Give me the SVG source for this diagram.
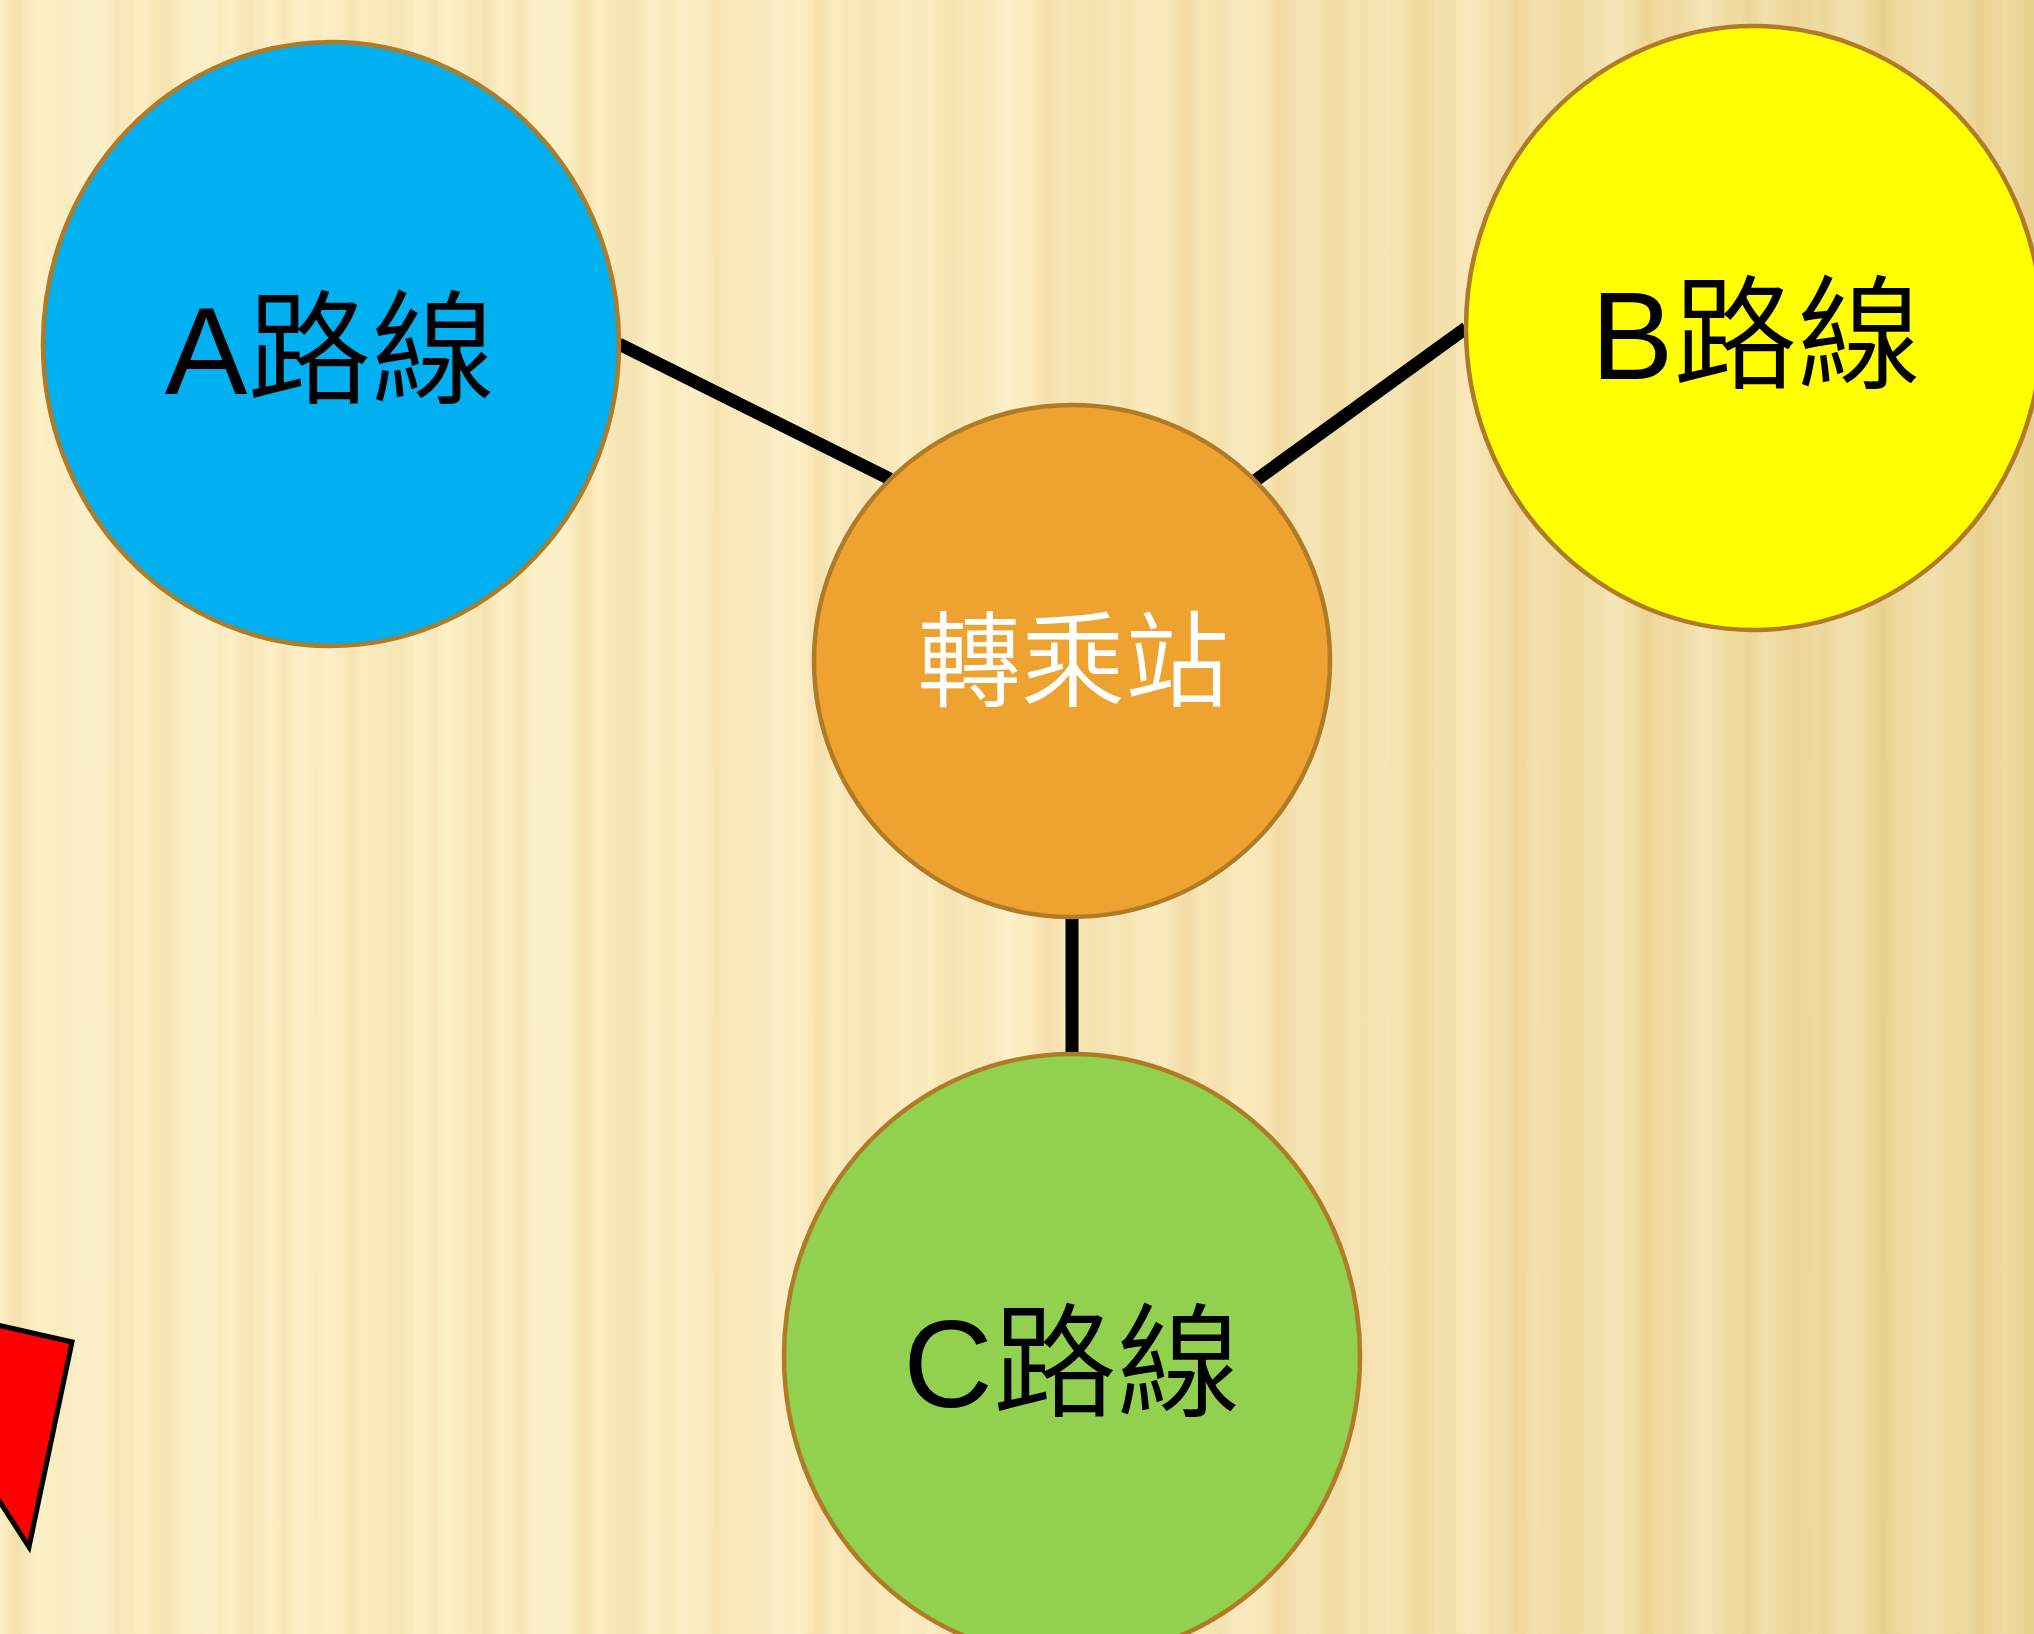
<svg xmlns="http://www.w3.org/2000/svg" width="2034" height="1634" viewBox="0 0 2034 1634">
<defs>
<style>
.node{stroke:#B17A25;stroke-width:4.5}
.lbl{font-family:"Liberation Sans","Noto Sans CJK TC",sans-serif;font-size:124px;fill:#000;text-anchor:middle;font-weight:350}
.ctr{font-family:"Noto Sans CJK TC",sans-serif;font-size:104px;fill:#FFFFFF;text-anchor:middle;font-weight:350}
.conn{stroke:#000;stroke-width:13;fill:none}
</style>
<linearGradient id="base" x1="0" y1="0" x2="1" y2="0">
<stop offset="0" stop-color="#FEF1C8"/>
<stop offset="0.45" stop-color="#FCEDC2"/>
<stop offset="0.7" stop-color="#F6E3B0"/>
<stop offset="1" stop-color="#EDD89C"/>
</linearGradient>
<linearGradient id="stripeG" x1="0" y1="0" x2="1" y2="0">
<stop offset="0" stop-color="#D9B860" stop-opacity="0"/>
<stop offset="0.08" stop-color="#D9B860" stop-opacity="0.22"/>
<stop offset="0.16" stop-color="#D9B860" stop-opacity="0"/>
<stop offset="0.3" stop-color="#FFF8E0" stop-opacity="0.25"/>
<stop offset="0.4" stop-color="#FFF8E0" stop-opacity="0"/>
<stop offset="0.5" stop-color="#E0B060" stop-opacity="0.18"/>
<stop offset="0.58" stop-color="#E0B060" stop-opacity="0"/>
<stop offset="0.72" stop-color="#D8C070" stop-opacity="0.2"/>
<stop offset="0.8" stop-color="#D8C070" stop-opacity="0"/>
<stop offset="0.9" stop-color="#FFF6DA" stop-opacity="0.22"/>
<stop offset="1" stop-color="#FFF6DA" stop-opacity="0"/>
</linearGradient>
<pattern id="stripes" x="0" y="0" width="233" height="1634" patternUnits="userSpaceOnUse">
<rect width="233" height="1634" fill="url(#stripeG)"/>
</pattern>
<pattern id="stripes2" x="57" y="0" width="151" height="1634" patternUnits="userSpaceOnUse">
<rect width="151" height="1634" fill="url(#stripeG)" opacity="0.5"/>
</pattern>
</defs>
<g id="background">
<rect width="2034" height="1634" fill="url(#base)"/>
<rect width="2034" height="1634" fill="url(#stripes)"/>
<rect width="2034" height="1634" fill="url(#stripes2)"/>
</g>
<g id="connectors">
<line class="conn" x1="619" y1="344" x2="890" y2="479"/>
<line class="conn" x1="1466" y1="328" x2="1256" y2="480"/>
<line class="conn" x1="1072" y1="916" x2="1072" y2="1056"/>
</g>
<g id="node-a">
<ellipse class="node" cx="331" cy="344" rx="288" ry="302" fill="#00B0F0"/>
<text class="lbl" x="330" y="394">A路線</text>
</g>
<g id="node-b">
<ellipse class="node" cx="1754" cy="328" rx="288" ry="302" fill="#FFFF00"/>
<text class="lbl" x="1756" y="379">B路線</text>
</g>
<g id="node-hub">
<ellipse class="node" cx="1072" cy="661" rx="258" ry="256" fill="#EEA22F"/>
<text class="ctr" x="1073" y="699">轉乘站</text>
</g>
<g id="node-c">
<ellipse class="node" cx="1072" cy="1356" rx="288" ry="302" fill="#92D050"/>
<text class="lbl" x="1072" y="1407">C路線</text>
</g>
<g id="red-shape">
<polygon points="-60,1312 72,1342 29,1547 -40,1440" fill="#FF0000" stroke="#000" stroke-width="5" stroke-linejoin="miter"/>
</g>
</svg>
